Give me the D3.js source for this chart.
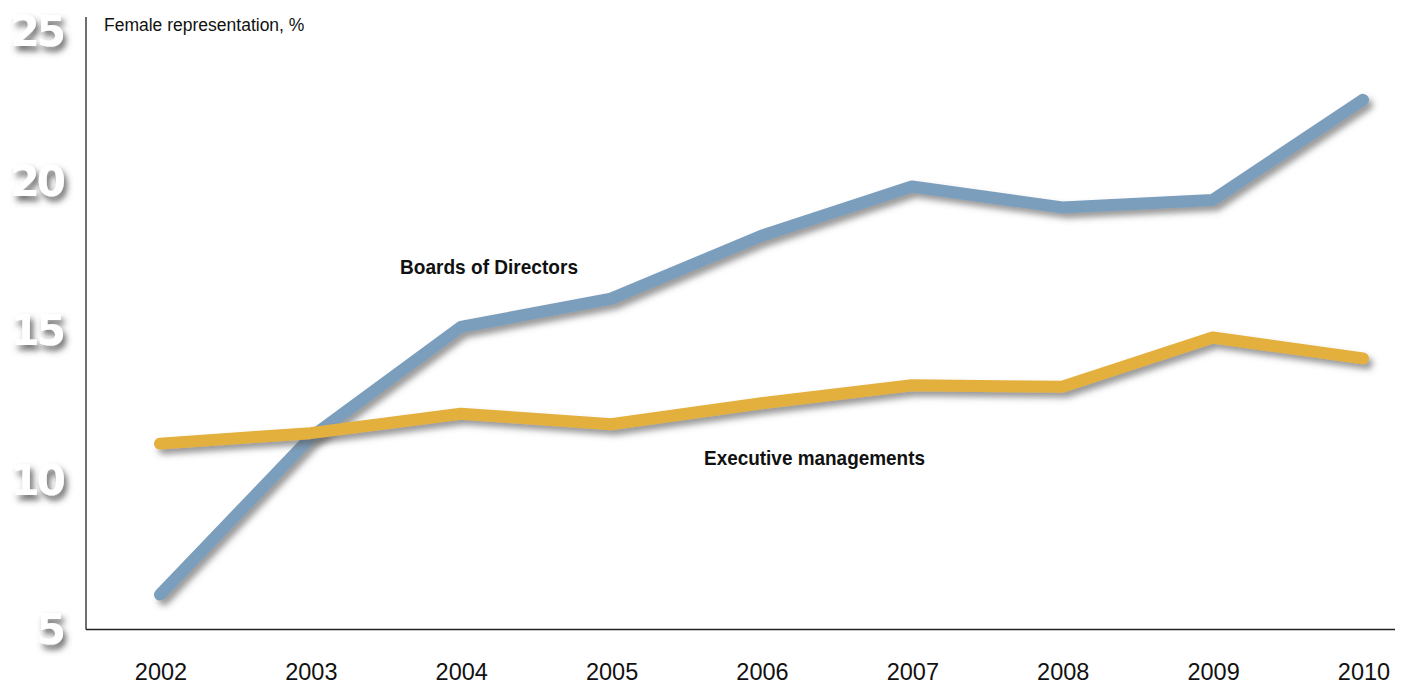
<!DOCTYPE html>
<html>
<head>
<meta charset="utf-8">
<script src="https://cdn.jsdelivr.net/npm/d3@7"></script>
<style>
  body { margin: 0; background: #fff; }
  svg { display: block; }
</style>
</head>
<body>
<div id="chart"></div>
<script>
const width = 1413, height = 688;

// data
const years = ["2002", "2003", "2004", "2005", "2006", "2007", "2008", "2009", "2010"];
const boards = [6.15, 11.4, 15.1, 16.05, 18.15, 19.8, 19.1, 19.35, 22.7];
const executive = [11.2, 11.55, 12.2, 11.85, 12.55, 13.15, 13.1, 14.75, 14.05];
const yTicks = [5, 10, 15, 20, 25];

const x = d3.scalePoint().domain(years).range([160, 1363]);
const y = d3.scaleLinear().domain([5, 25]).range([629, 31]);

const svg = d3.select("#chart").append("svg")
  .attr("width", width)
  .attr("height", height);

const defs = svg.append("defs");
const shadow = defs.append("filter").attr("id", "shadow")
  .attr("x", "-20%").attr("y", "-20%").attr("width", "140%").attr("height", "160%");
shadow.append("feDropShadow")
  .attr("dx", 4).attr("dy", 5).attr("stdDeviation", 3)
  .attr("flood-color", "#555").attr("flood-opacity", 0.6);

const txtShadow = defs.append("filter").attr("id", "txtShadow")
  .attr("x", "-30%").attr("y", "-30%").attr("width", "170%").attr("height", "180%");
txtShadow.append("feDropShadow")
  .attr("dx", 3).attr("dy", 5).attr("stdDeviation", 3)
  .attr("flood-color", "#444").attr("flood-opacity", 0.8);

// axes lines
svg.append("line")
  .attr("x1", 86).attr("x2", 86).attr("y1", 17).attr("y2", 629.5)
  .attr("stroke", "#222").attr("stroke-width", 1.3);
svg.append("line")
  .attr("x1", 86).attr("x2", 1395).attr("y1", 629.5).attr("y2", 629.5)
  .attr("stroke", "#222").attr("stroke-width", 1.3);

// y tick labels (white with shadow)
svg.append("g")
  .selectAll("text")
  .data(yTicks)
  .join("text")
  .attr("x", 63)
  .attr("y", (d) => y(d))
  .attr("dy", "0.36em")
  .attr("text-anchor", "end")
  .attr("font-family", "DejaVu Sans")
  .attr("font-weight", "bold")
  .attr("font-size", 42)
  .attr("letter-spacing", -3)
  .attr("fill", "#fff")
  .attr("filter", "url(#txtShadow)")
  .text((d) => d);

// x tick labels
svg.append("g")
  .selectAll("text")
  .data(years)
  .join("text")
  .attr("x", (d) => x(d) + 1)
  .attr("y", 680)
  .attr("text-anchor", "middle")
  .attr("font-family", "Liberation Sans, Arial, sans-serif")
  .attr("font-size", 23.5)
  .attr("fill", "#111")
  .text((d) => d);

svg.append("text")
  .attr("x", 104).attr("y", 31)
  .attr("font-family", "Liberation Sans, Arial, sans-serif")
  .attr("font-size", 17.5)
  .attr("fill", "#111")
  .text("Female representation, %");

const line = d3.line()
  .x((d, i) => x(years[i]))
  .y((d) => y(d));

const series = [
  { values: boards, color: "#7c9ebd" },
  { values: executive, color: "#e3b03c" }
];

svg.append("g")
  .selectAll("path")
  .data(series)
  .join("path")
  .attr("d", (d) => line(d.values))
  .attr("fill", "none")
  .attr("stroke", (d) => d.color)
  .attr("stroke-width", 12)
  .attr("stroke-linecap", "round")
  .attr("stroke-linejoin", "round")
  .attr("filter", "url(#shadow)");

// series labels (condensed bold)
svg.append("text")
  .attr("x", 400).attr("y", 274)
  .attr("font-family", "Liberation Sans, Arial, sans-serif")
  .attr("font-weight", "bold")
  .attr("font-size", 21)
  .attr("textLength", 178)
  .attr("lengthAdjust", "spacingAndGlyphs")
  .attr("fill", "#111")
  .text("Boards of Directors");

svg.append("text")
  .attr("x", 704).attr("y", 465)
  .attr("font-family", "Liberation Sans, Arial, sans-serif")
  .attr("font-weight", "bold")
  .attr("font-size", 21)
  .attr("textLength", 221)
  .attr("lengthAdjust", "spacingAndGlyphs")
  .attr("fill", "#111")
  .text("Executive managements");
</script>
</body>
</html>
